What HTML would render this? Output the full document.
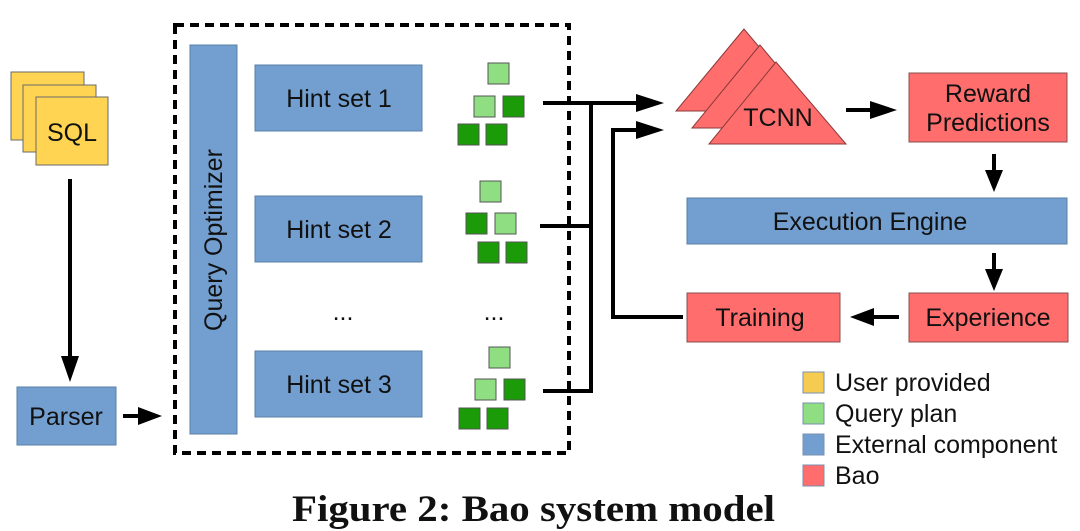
<!DOCTYPE html>
<html><head><meta charset="utf-8"><style>
html,body{margin:0;padding:0;background:#fff;width:1080px;height:531px;overflow:hidden}
svg text{font-family:"Liberation Sans",sans-serif;fill:#111}
</style></head><body>
<svg width="1080" height="531" viewBox="0 0 1080 531" xmlns="http://www.w3.org/2000/svg">
<g stroke="#6a6a6a" stroke-width="1">
<rect x="11" y="72" width="73" height="68" fill="#fed452"/>
<rect x="23" y="85" width="73" height="67" fill="#fed452"/>
<rect x="36" y="97" width="72" height="68" fill="#fed452"/>
</g>
<text x="72" y="141" font-size="25" text-anchor="middle">SQL</text>
<line x1="70" y1="179" x2="70" y2="360" stroke="#000" stroke-width="4"/>
<polygon points="61,356 79,356 70,382" fill="#000"/>
<rect x="17" y="387" width="99" height="58" fill="#729fcf" stroke="#5b7fa6"/>
<text x="66" y="425" font-size="25" text-anchor="middle">Parser</text>
<line x1="123" y1="416" x2="140" y2="416" stroke="#000" stroke-width="4"/>
<polygon points="138,407 138,425 162,416" fill="#000"/>
<rect x="175" y="25" width="394" height="428" fill="none" stroke="#000" stroke-width="4" stroke-dasharray="9,6"/>
<rect x="190" y="45" width="47" height="389" fill="#729fcf" stroke="#5b7fa6"/>
<text transform="translate(222,240) rotate(-90)" font-size="25" text-anchor="middle">Query Optimizer</text>
<g fill="#729fcf" stroke="#5b7fa6">
<rect x="255" y="65" width="167" height="66"/>
<rect x="255" y="196" width="167" height="66"/>
<rect x="255" y="351" width="167" height="66"/>
</g>
<g font-size="25" text-anchor="middle">
<text x="339" y="107">Hint set 1</text>
<text x="339" y="238">Hint set 2</text>
<text x="339" y="393">Hint set 3</text>
<text x="343" y="320">...</text>
<text x="494" y="320">...</text>
</g>
<g stroke="#555" stroke-width="1">
<rect x="488" y="63" width="21" height="21" fill="#8fde82"/>
<rect x="474" y="96" width="21" height="21" fill="#8fde82"/>
<rect x="503" y="96" width="21" height="21" fill="#1a9b07"/>
<rect x="458" y="124" width="21" height="21" fill="#1a9b07"/>
<rect x="486" y="124" width="21" height="21" fill="#1a9b07"/>
<rect x="480" y="181" width="21" height="21" fill="#8fde82"/>
<rect x="466" y="213" width="21" height="21" fill="#1a9b07"/>
<rect x="495" y="213" width="21" height="21" fill="#8fde82"/>
<rect x="478" y="242" width="21" height="21" fill="#1a9b07"/>
<rect x="506" y="242" width="21" height="21" fill="#1a9b07"/>
<rect x="489" y="347" width="21" height="21" fill="#8fde82"/>
<rect x="475" y="379" width="21" height="21" fill="#8fde82"/>
<rect x="504" y="379" width="21" height="21" fill="#1a9b07"/>
<rect x="459" y="408" width="21" height="21" fill="#1a9b07"/>
<rect x="487" y="408" width="21" height="21" fill="#1a9b07"/>
</g>
<g stroke="#000" stroke-width="4" fill="none">
<line x1="543" y1="103" x2="640" y2="103"/>
<line x1="540" y1="226" x2="591" y2="226"/>
<line x1="543" y1="391" x2="591" y2="391"/>
<line x1="591" y1="101" x2="591" y2="393"/>
<polyline points="683,317 613,317 613,130 640,130"/>
</g>
<polygon points="636,94 636,112 664,103" fill="#000"/>
<polygon points="636,121 636,139 664,130" fill="#000"/>
<g fill="#ff6d6d" stroke="#8a3a3a" stroke-width="1">
<polygon points="744,29 676,111 813,111"/>
<polygon points="760,45 692,128 829,128"/>
<polygon points="776,62 709,144 846,144"/>
</g>
<text x="778" y="126" font-size="25" text-anchor="middle">TCNN</text>
<line x1="846" y1="110" x2="875" y2="110" stroke="#000" stroke-width="4"/>
<polygon points="870,101 870,119 897,110" fill="#000"/>
<rect x="909" y="73" width="158" height="69" fill="#ff6d6d" stroke="#8a5050"/>
<text x="988" y="102" font-size="25" text-anchor="middle">Reward</text>
<text x="988" y="131" font-size="25" text-anchor="middle">Predictions</text>
<line x1="994" y1="154" x2="994" y2="175" stroke="#000" stroke-width="4"/>
<polygon points="985,170 1003,170 994,192" fill="#000"/>
<rect x="687" y="198" width="380" height="46" fill="#729fcf" stroke="#5b7fa6"/>
<text x="870" y="230" font-size="25" text-anchor="middle">Execution Engine</text>
<line x1="994" y1="253" x2="994" y2="274" stroke="#000" stroke-width="4"/>
<polygon points="985,269 1003,269 994,291" fill="#000"/>
<rect x="909" y="293" width="159" height="49" fill="#ff6d6d" stroke="#8a5050"/>
<text x="988" y="326" font-size="25" text-anchor="middle">Experience</text>
<rect x="687" y="293" width="153" height="49" fill="#ff6d6d" stroke="#8a5050"/>
<text x="760" y="326" font-size="25" text-anchor="middle">Training</text>
<line x1="899" y1="317" x2="870" y2="317" stroke="#000" stroke-width="4"/>
<polygon points="874,308 874,326 850,317" fill="#000"/>
<g stroke="#7a8fb0" stroke-width="1">
<rect x="803" y="372" width="21" height="21" fill="#f5cc4f"/>
<rect x="803" y="403" width="21" height="21" fill="#8fde82"/>
<rect x="803" y="434" width="21" height="21" fill="#729fcf"/>
<rect x="803" y="465" width="21" height="21" fill="#ff6d6d"/>
</g>
<g font-size="25">
<text x="835" y="391">User provided</text>
<text x="835" y="422">Query plan</text>
<text x="835" y="453">External component</text>
<text x="835" y="484">Bao</text>
</g>
<text x="292" y="521" font-size="37" font-weight="bold" textLength="483" lengthAdjust="spacingAndGlyphs" style="font-family:'Liberation Serif',serif">Figure 2: Bao system model</text>
</svg>
</body></html>
